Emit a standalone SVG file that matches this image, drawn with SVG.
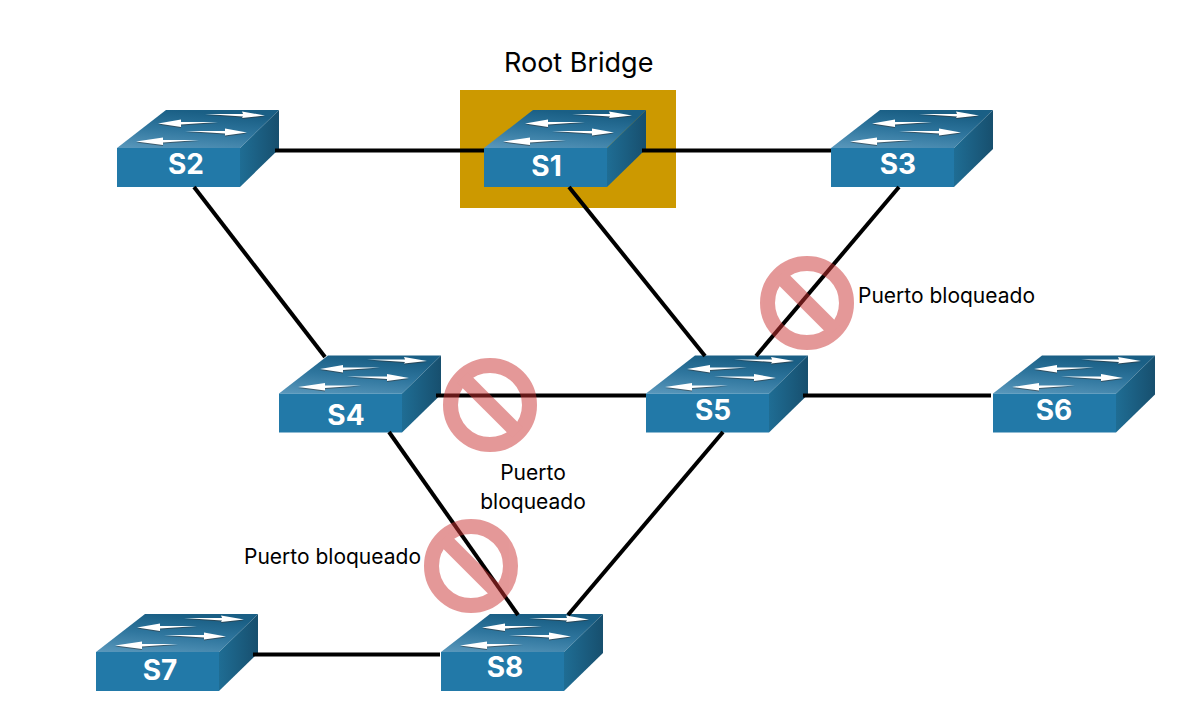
<svg xmlns="http://www.w3.org/2000/svg" width="1204" height="722" viewBox="0 0 1204 722">
<style>
.lnk{stroke:#000;stroke-width:4;fill:none;stroke-linecap:butt}
.nm{font:700 28px Inter,"Liberation Sans",Arial,sans-serif;fill:#fff;text-anchor:middle}
.lb{font:21px Inter,"Liberation Sans",Arial,sans-serif;fill:#000}
.ttl{font:27px Inter,"Liberation Sans",Arial,sans-serif;fill:#000}
.ring{fill:none;stroke:#cb3333;stroke-width:15}
.bar{stroke:#cb3333;stroke-width:15}
</style>
<defs>
<linearGradient id="top" x1="0" y1="1" x2="0.35" y2="0">
<stop offset="0" stop-color="#5a98bc"/><stop offset="0.55" stop-color="#2f769e"/><stop offset="1" stop-color="#1a5f85"/>
</linearGradient>
<linearGradient id="side" x1="0" y1="0" x2="1" y2="0">
<stop offset="0" stop-color="#1f6d94"/><stop offset="1" stop-color="#174f6e"/>
</linearGradient>
<g id="arrows">
<path d="M88,-34L126,-34L125,-36.500L148,-32.500L125,-30L126,-31.500Z"/>
<path d="M101,-26L64,-26L64,-28.500L41,-24.500L64,-21L64,-23.500Z"/>
<path d="M68,-17L108,-17L108,-19.500L130,-15.500L108,-12.500L108,-14.500Z"/>
<path d="M82,-8L46,-8L46,-10.500L19,-6.500L46,-3L46,-5.500Z"/>
</g>
<g id="sw">
<polygon points="0,0 49,-38 162,-38 123,0" fill="url(#top)"/>
<polygon points="123,0 162,-38 162,1 123,39" fill="url(#side)"/>
<rect x="0" y="0" width="123" height="39" fill="#2279a8"/>
<use href="#arrows" y="1" fill="#333" opacity=".55"/>
<use href="#arrows" fill="#fff"/>
</g>
<g id="no" opacity="0.5">
<circle class="ring" r="39.500"/>
<line class="bar" x1="-27.500" y1="-27.500" x2="27.500" y2="27.500"/>
</g>
</defs>
<rect id="root-highlight" x="460" y="90" width="216" height="118" fill="#cc9900"/>
<g id="S2"><use href="#sw" x="117" y="148"/><text class="nm" x="186" y="174">S2</text></g>
<g id="S1"><use href="#sw" x="484" y="148"/><text class="nm" x="546.500" y="176">S1</text></g>
<g id="S3"><use href="#sw" x="831" y="148"/><text class="nm" x="898" y="174">S3</text></g>
<g id="S4"><use href="#sw" x="279" y="393.500"/><text class="nm" x="346" y="425">S4</text></g>
<g id="S5"><use href="#sw" x="646" y="393.500"/><text class="nm" x="713" y="420">S5</text></g>
<g id="S6"><use href="#sw" x="993" y="393.500"/><text class="nm" x="1054" y="420">S6</text></g>
<g id="S7"><use href="#sw" x="96" y="652"/><text class="nm" x="160" y="680">S7</text></g>
<g id="S8"><use href="#sw" x="441" y="652"/><text class="nm" x="505" y="677">S8</text></g>
<g id="connectors">
<line class="lnk" x1="275" y1="150.500" x2="484" y2="150.500"/>
<line class="lnk" x1="642" y1="150.500" x2="831" y2="150.500"/>
<line class="lnk" x1="194" y1="187" x2="325" y2="357"/>
<line class="lnk" x1="569" y1="187" x2="705" y2="356"/>
<line class="lnk" x1="899" y1="187" x2="756" y2="356"/>
<line class="lnk" x1="436" y1="395.500" x2="646" y2="395.500"/>
<line class="lnk" x1="803" y1="395.500" x2="991" y2="395.500"/>
<line class="lnk" x1="389" y1="432" x2="518" y2="615"/>
<line class="lnk" x1="723" y1="432" x2="568" y2="615"/>
<line class="lnk" x1="253" y1="654.500" x2="440" y2="654.500"/>
</g>
<use id="block-s5" href="#no" x="807" y="303"/>
<use id="block-s4" href="#no" x="490" y="405"/>
<use id="block-s8" href="#no" x="471" y="566"/>
<text class="ttl" x="504" y="72">Root Bridge</text>
<text class="lb" x="858" y="303">Puerto bloqueado</text>
<text class="lb" x="533" y="480" text-anchor="middle">Puerto</text>
<text class="lb" x="533" y="509" text-anchor="middle">bloqueado</text>
<text class="lb" x="244" y="564">Puerto bloqueado</text>
</svg>
